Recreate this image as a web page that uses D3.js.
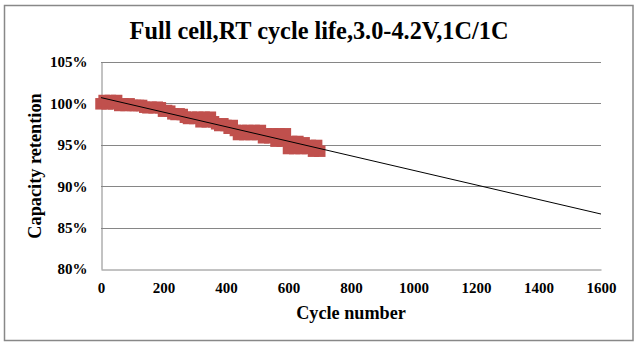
<!DOCTYPE html>
<html><head><meta charset="utf-8">
<script src="https://cdn.jsdelivr.net/npm/d3@7"></script>
<style>body{margin:0;background:#fff}svg{display:block}</style>
</head><body>
<script>
const titleText = "Full cell,RT cycle life,3.0-4.2V,1C/1C";
const xTicks = [0,200,400,600,800,1000,1200,1400,1600];
const yTicks = [80,85,90,95,100,105];
const cycles = [0,10,20,30,40,50,60,70,80,90,100,110,120,130,140,150,160,170,180,190,200,210,220,230,240,250,260,270,280,290,300,310,320,330,340,350,360,370,380,390,400,410,420,430,440,450,460,470,480,490,500,510,520,530,540,550,560,570,580,590,600,610,620,630,640,650,660,670,680,690,700];
const retention = [99.95,100.35,99.95,100.35,99.95,100.35,99.75,99.95,99.75,99.95,99.75,99.75,99.75,99.75,99.54,99.47,99.54,99.47,99.54,99.47,99.06,99.14,99.06,98.74,98.66,98.74,98.66,98.33,98.18,98.33,98.18,98.33,97.78,98.33,97.78,98.33,97.78,97.54,97.33,97.54,97.33,97.0,97.33,96.73,96.24,96.73,96.24,96.73,96.24,96.73,96.24,96.73,95.85,96.33,95.85,96.33,95.44,96.33,95.44,96.33,94.55,95.4,94.55,95.4,94.55,95.24,94.55,94.92,94.23,94.92,94.23];
const trendCycles = [0,1600];
const trendValues = [100.7,86.64];

const W=637,H=344;
const m={l:101,r:601,t:62,b:269};
const svg=d3.select("body").append("svg").attr("width",W).attr("height",H);
svg.append("rect").attr("x",4.5).attr("y",5.5).attr("width",628.5).attr("height",335)
  .attr("fill","#fff").attr("stroke","#888").attr("stroke-width",1.5);

const x=d3.scaleLinear().domain([0,1600]).range([m.l,m.r]);
const y=d3.scaleLinear().domain([80,105]).range([m.b,m.t]);
const font="'Liberation Serif','Times New Roman',serif";

// gridlines
svg.append("g").selectAll("line").data(yTicks.filter(v=>v>80)).join("line")
  .attr("x1",m.l).attr("x2",m.r).attr("y1",d=>Math.round(y(d))+0.5).attr("y2",d=>Math.round(y(d))+0.5)
  .attr("stroke","#868686").attr("stroke-width",1);

const yAxis=svg.append("g").attr("transform",`translate(${m.l+0.5},0)`)
  .call(d3.axisLeft(y).tickValues(yTicks).tickSize(0).tickPadding(14).tickFormat(d=>d+"%"));
const xAxis=svg.append("g").attr("transform",`translate(0,${m.b+0.5})`)
  .call(d3.axisBottom(x).tickValues(xTicks).tickSize(0).tickPadding(13).tickFormat(d3.format("d")));
[xAxis,yAxis].forEach(g=>{
  g.select(".domain").attr("stroke","#868686").attr("stroke-width",1);
  g.selectAll("text").attr("font-family",font).attr("font-weight","bold").attr("font-size","15px").attr("fill","#000");
});

// markers
const s=11.5;
svg.append("g").selectAll("rect").data(cycles.map((c,i)=>[c,retention[i]])).join("rect")
  .attr("x",d=>x(d[0])-s/2).attr("y",d=>y(d[1])-s/2).attr("width",s).attr("height",s)
  .attr("fill","#C0504D");

// trend line
svg.append("path").datum(trendCycles.map((c,i)=>[c,trendValues[i]]))
  .attr("d",d3.line().x(d=>x(d[0])).y(d=>y(d[1])))
  .attr("fill","none").attr("stroke","#000").attr("stroke-width",1);

svg.append("text").attr("x",319).attr("y",39).attr("text-anchor","middle")
  .attr("font-family",font).attr("font-weight","bold").attr("font-size","24.3px").text(titleText);
svg.append("text").attr("x",351).attr("y",319).attr("text-anchor","middle")
  .attr("font-family",font).attr("font-weight","bold").attr("font-size","18.2px").text("Cycle number");
svg.append("text").attr("transform","translate(41,166) rotate(-90)").attr("text-anchor","middle")
  .attr("font-family",font).attr("font-weight","bold").attr("font-size","18.3px").text("Capacity retention");
</script>
</body></html>
